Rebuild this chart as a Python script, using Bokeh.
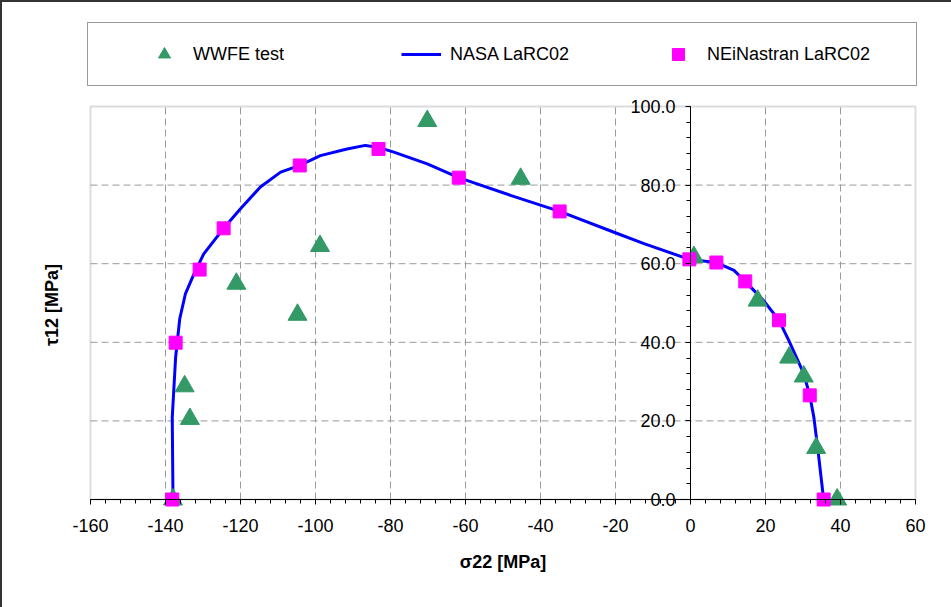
import math
from bokeh.plotting import figure
from bokeh.models import (Range1d, SingleIntervalTicker, Legend, LegendItem,
                          BoxAnnotation, Label)
from bokeh.embed import file_html
from bokeh.resources import INLINE

# ---- data ----
wwfe_x = [-138.0, -133.5, -134.9, -104.8, -121.1, -98.8, -70.2, -45.3, 0.9, 17.9, 26.3, 30.2, 33.5, 39.1]
wwfe_y = [0.0, 20.5, 28.8, 47.0, 54.9, 64.5, 96.3, 81.6, 61.7, 50.6, 36.1, 31.3, 13.1, 0.0]

nasa_x = [-138.0, -138.2, -137.3, -136.2, -134.7, -132.4, -129.8, -124.5, -120.0, -114.7,
          -109.3, -104.2, -98.7, -91.6, -86.7, -83.2, -79.1, -70.2, -61.8, -48.0,
          -34.9, -20.4, -12.4, -0.3, 6.9, 11.6, 14.6, 19.5, 23.6, 26.2,
          30.2, 31.8, 32.9, 34.0, 35.5]
nasa_y = [0.0, 20.9, 36.2, 46.0, 52.3, 57.4, 62.5, 69.0, 74.0, 79.5,
          83.3, 85.0, 87.5, 89.2, 90.1, 89.6, 88.4, 85.4, 81.9, 77.4,
          73.3, 68.0, 65.1, 61.1, 60.3, 58.3, 55.5, 50.6, 45.6, 40.5,
          32.0, 26.5, 20.9, 12.5, 0.0]

nei_x = [-138.2, -137.3, -130.9, -124.5, -104.2, -83.2, -61.8, -34.9, -0.3, 6.9, 14.6, 23.6, 31.8, 35.5]
nei_y = [0.0, 39.9, 58.5, 69.0, 85.0, 89.2, 81.9, 73.3, 61.1, 60.3, 55.5, 45.6, 26.5, 0.0]

x_ticks = [-160, -140, -120, -100, -80, -60, -40, -20, 0, 20, 40, 60]
x_tick_labels = ["-160", "-140", "-120", "-100", "-80", "-60", "-40", "-20", "0", "20", "40", "60"]
y_ticks = [0, 20, 40, 60, 80, 100]
y_tick_labels = ["0.0", "20.0", "40.0", "60.0", "80.0", "100.0"]

labels = ["WWFE test", "NASA LaRC02", "NEiNastran LaRC02"]
x_title = "σ22 [MPa]"
y_title = "τ12 [MPa]"

FONT = "Liberation Sans"
FRAME_GREY = "#8c8c8c"
GRID_GREY = "#9a9a9a"

x0, x1 = x_ticks[0], x_ticks[-1]
y0, y1 = y_ticks[0], y_ticks[-1]

# ---- layout: the plotting frame fills the whole canvas; the visible plot
# area (x0..x1, y0..y1) sits inside it, legend and titles around it ----
W, H = 951, 607
X_VIEW = (-184.0, 69.6)
Y_VIEW = (-27.48, 126.97)

p = figure(width=W, height=H, output_backend="svg", toolbar_location=None,
           x_range=Range1d(*X_VIEW), y_range=Range1d(*Y_VIEW),
           min_border_left=0, min_border_right=0, min_border_top=0, min_border_bottom=0)
p.background_fill_alpha = 0
p.border_fill_alpha = 0
p.outline_line_color = None
p.styles = {"box-shadow": "inset 2px 2px 0 0 #333333"}
p.xgrid.visible = False
p.ygrid.visible = False

# x axis at y = 0
xa = p.xaxis[0]
xa.fixed_location = 0
xa.bounds = (x0, x1)
xa.ticker = SingleIntervalTicker(interval=20, num_minor_ticks=5)
xa.major_label_overrides = dict(zip(x_ticks, x_tick_labels))
xa.axis_label = x_title
xa.axis_label_text_font = FONT
xa.axis_label_text_font_size = "18px"
xa.axis_label_text_font_style = "bold"
xa.axis_label_text_color = "black"
xa.axis_label_standoff = 17
xa.major_label_text_font = FONT
xa.major_label_text_font_size = "18px"
xa.major_label_text_color = "black"
xa.major_label_standoff = 14
xa.axis_line_color = "black"
xa.major_tick_in = 0
xa.major_tick_out = 5
xa.minor_tick_in = 0
xa.minor_tick_out = 4
xa.major_tick_line_color = "black"
xa.minor_tick_line_color = "black"

# y axis at x = 0
ya = p.yaxis[0]
ya.fixed_location = 0
ya.bounds = (y0, y1)
ya.ticker = SingleIntervalTicker(interval=20, num_minor_ticks=5)
ya.major_label_overrides = dict(zip(y_ticks, y_tick_labels))
ya.major_label_text_font = FONT
ya.major_label_text_font_size = "18px"
ya.major_label_text_color = "black"
ya.major_label_standoff = 10
ya.axis_line_color = "black"
ya.major_tick_in = 0
ya.major_tick_out = 5
ya.minor_tick_in = 0
ya.minor_tick_out = 4
ya.major_tick_line_color = "black"
ya.minor_tick_line_color = "black"

p.add_layout(Label(x=-170.4, y=49.5, text=y_title, angle=math.pi / 2,
                   text_align="center", text_baseline="middle",
                   text_font=FONT, text_font_size="18px", text_font_style="bold",
                   text_color="black"))

# dashed grid, limited to the plot area
gx = x_ticks[1:-1]
gy = y_ticks[1:-1]
p.segment(x0=gx, y0=[y0] * len(gx), x1=gx, y1=[y1] * len(gx),
          line_color=GRID_GREY, line_width=1, line_dash="7 4", level="underlay")
p.segment(x0=[x0] * len(gy), y0=gy, x1=[x1] * len(gy), y1=gy,
          line_color=GRID_GREY, line_width=1, line_dash="7 4", level="underlay")

# plot-area border
p.add_layout(BoxAnnotation(left=x0, right=x1, bottom=y0, top=y1,
                           fill_alpha=0, line_color=FRAME_GREY, line_width=2,
                           level="underlay"))

r_line = p.line(nasa_x, nasa_y, line_color="#0000ff", line_width=3)
r_tri = p.scatter(wwfe_x, wwfe_y, marker="triangle", size=19,
                  fill_color="#339966", line_color="#339966")
r_sq = p.scatter(nei_x, nei_y, marker="square", size=13,
                 fill_color="#ff00ff", line_color="#ff00ff")

legend = Legend(items=[LegendItem(label=labels[0], renderers=[r_tri]),
                       LegendItem(label=labels[1], renderers=[r_line]),
                       LegendItem(label=labels[2], renderers=[r_sq])],
                orientation="horizontal", location=(87, 521),
                border_line_color="#333333", border_line_width=1.5,
                background_fill_color="white",
                margin=0, padding=16, spacing=15,
                glyph_width=40, glyph_height=30, label_standoff=9, label_width=193,
                label_text_font=FONT, label_text_font_size="18px",
                label_text_color="black")
if "title_location" in Legend.properties():
    legend.title = " "
    legend.title_location = "left"
    legend.title_standoff = 19
    legend.title_text_font_size = "18px"
p.add_layout(legend, "center")

open("out.html", "w").write(file_html(p, INLINE))
